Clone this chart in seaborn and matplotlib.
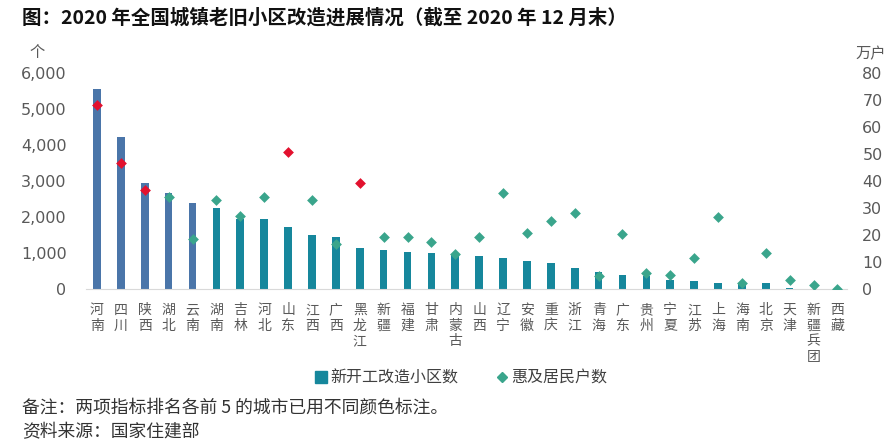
import numpy as np
import pandas as pd
import matplotlib.pyplot as plt
from matplotlib.lines import Line2D
import seaborn as sns

# Data
provinces = ['河南', '四川', '陕西', '湖北', '云南', '湖南', '吉林', '河北', '山东', '江西',
             '广西', '黑龙江', '新疆', '福建', '甘肃', '内蒙古', '山西', '辽宁', '安徽', '重庆',
             '浙江', '青海', '广东', '贵州', '宁夏', '江苏', '上海', '海南', '北京', '天津',
             '新疆兵团', '西藏']
communities = [5550, 4220, 2940, 2660, 2380, 2250, 1955, 1950, 1735, 1495,
               1455, 1135, 1085, 1030, 1010, 950, 925, 870, 770, 715,
               575, 480, 400, 360, 250, 220, 180, 130, 170, 25,
               8, 3]
households = [68.2, 46.5, 36.5, 34.2, 18.5, 33.0, 27.2, 34.1, 50.7, 32.9,
              16.7, 39.3, 19.3, 19.2, 17.3, 12.9, 19.4, 35.7, 20.7, 25.0,
              28.3, 4.9, 20.3, 5.9, 5.1, 11.4, 26.6, 2.1, 13.4, 3.2,
              1.6, 0.1]
top_communities = ['河南', '四川', '陕西', '湖北', '云南']
top_households = ['河南', '四川', '陕西', '山东', '黑龙江']

blue = '#4a75a9'
teal = '#16879c'
green = '#3aa58c'
red = '#e2112e'
grey = '#595959'

sns.set_style('white')
plt.rcParams['font.family'] = ['Noto Sans CJK SC', 'DejaVu Sans']

df = pd.DataFrame({'province': provinces, 'communities': communities, 'households': households})
df['bar_group'] = np.where(df['province'].isin(top_communities), 'top', 'rest')
df['dot_group'] = np.where(df['province'].isin(top_households), 'top', 'rest')

fig = plt.figure(figsize=(8.92, 4.46), dpi=100)
ax = fig.add_axes([86 / 892, 1 - 289 / 446, 761 / 892, 216 / 446])

# Bars: number of communities (left axis)
sns.barplot(data=df, x='province', y='communities', hue='bar_group',
            palette={'top': blue, 'rest': teal}, width=0.32, dodge=False,
            saturation=1, linewidth=0, legend=False, ax=ax)

# Diamonds: households (right axis)
ax2 = ax.twinx()
sns.stripplot(data=df, x='province', y='households', hue='dot_group',
              palette={'top': red, 'rest': green}, marker='D', size=5.5,
              jitter=False, dodge=False, linewidth=0, legend=False, ax=ax2)

ax.set_xlim(-0.46, len(provinces) - 0.6)
ax.set_ylim(0, 6000)
ax2.set_ylim(0, 80)

ax.set_xticks(range(len(provinces)))
ax.set_xticklabels(['\n'.join(p) for p in provinces], fontsize=10,
                   linespacing=1.15, va='top', color=grey)
ax.set_yticks(range(0, 6001, 1000))
ax.set_yticklabels([f'{v:,}' for v in range(0, 6001, 1000)])
ax2.set_yticks(range(0, 81, 10))
ax2.set_yticklabels([str(v) for v in range(0, 81, 10)])

for a in (ax, ax2):
    a.set_xlabel('')
    a.set_ylabel('')
    for s in a.spines.values():
        s.set_visible(False)
    for lab in a.get_yticklabels():
        lab.set_fontfamily('DejaVu Sans')
ax.spines['bottom'].set_visible(True)
ax.spines['bottom'].set_color('#d9d9d9')

ax.tick_params(axis='y', length=0, pad=14, labelsize=11.5, labelcolor=grey)
ax2.tick_params(axis='y', length=0, pad=11, labelsize=11.5, labelcolor=grey)
ax.tick_params(axis='x', length=0, pad=10)

# Units
fig.text(37 / 892, 1 - 52 / 446, '个', fontsize=11, color=grey, ha='center', va='center')
fig.text(871 / 892, 1 - 54 / 446, '万户', fontsize=11, color=grey, ha='center', va='center')

# Legend
handles = [Line2D([], [], marker='s', color=teal, ls='', ms=8),
           Line2D([], [], marker='D', color=green, ls='', ms=5.5)]
fig.legend(handles, ['新开工改造小区数', '惠及居民户数'], loc='center',
           bbox_to_anchor=(460 / 892, 1 - 378 / 446), ncol=2, frameon=False,
           fontsize=11.5, handletextpad=0.1, columnspacing=2.2, handlelength=1.0,
           labelcolor='#404040')

# Title and notes
fig.text(22 / 892, 1 - 18 / 446, '图：2020 年全国城镇老旧小区改造进展情况（截至 2020 年 12 月末）',
         fontsize=14, fontweight='bold', va='center', color='#111111')
fig.text(22 / 892, 1 - 408 / 446, '备注：两项指标排名各前 5 的城市已用不同颜色标注。',
         fontsize=12.8, va='center', color='#333333')
fig.text(22 / 892, 1 - 432 / 446, '资料来源：国家住建部',
         fontsize=12.8, va='center', color='#333333')

fig.savefig('out.png', dpi=100)
